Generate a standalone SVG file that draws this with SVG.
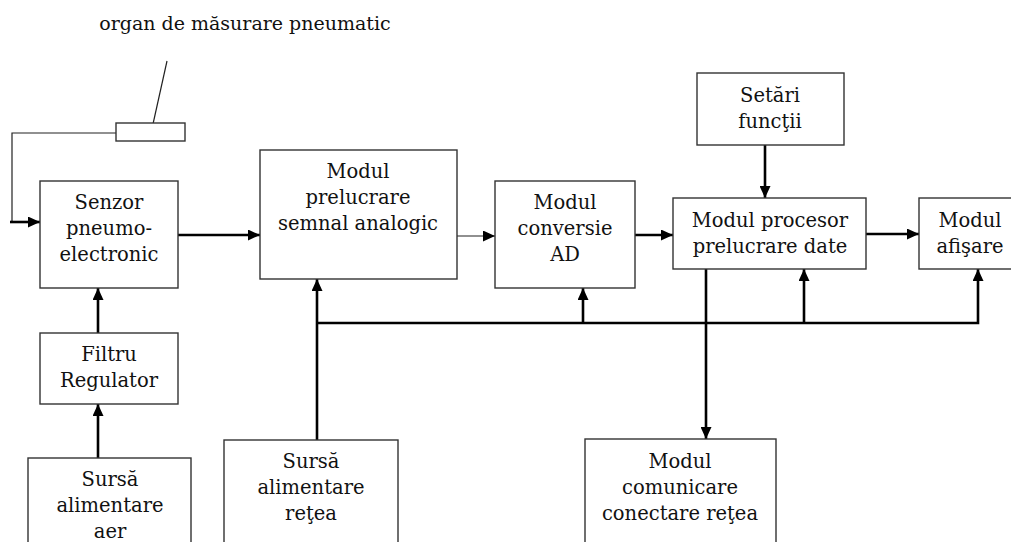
<svg xmlns="http://www.w3.org/2000/svg" width="1011" height="542" viewBox="0 0 1011 542">
<defs>
<style>
.box{fill:#fff;stroke:#333;stroke-width:1.4}
.t{font-family:"DejaVu Serif",serif;font-size:19.5px;fill:#111;text-anchor:middle}
.c{fill:none;stroke:#000;stroke-width:2.6}
.thin{fill:none;stroke:#222;stroke-width:1.2}
</style>
<marker id="ah" markerWidth="12" markerHeight="11" refX="12" refY="5.5" orient="auto" markerUnits="userSpaceOnUse" viewBox="0 0 12 11">
<path d="M0,0 L12,5.5 L0,11 z" fill="#000"/>
</marker>
</defs>
<rect width="1011" height="542" fill="#fff"/>

<text class="t" x="245" y="30" style="font-size:19px">organ de măsurare pneumatic</text>

<g id="connectors">
<line class="thin" x1="167" y1="61" x2="151" y2="133"/>
<polyline class="thin" points="116,133 12,133 12,222"/>
<line class="c" x1="10" y1="222" x2="40" y2="222" marker-end="url(#ah)"/>
<line class="c" x1="178" y1="235" x2="260" y2="235" marker-end="url(#ah)"/>
<line class="thin" x1="457" y1="236" x2="495" y2="236" marker-end="url(#ah)"/>
<line class="c" x1="635" y1="235" x2="673" y2="235" marker-end="url(#ah)"/>
<line class="c" x1="866" y1="234" x2="919" y2="234" marker-end="url(#ah)"/>
<line class="c" x1="765" y1="145" x2="765" y2="198" marker-end="url(#ah)"/>
<line class="c" x1="98" y1="458" x2="98" y2="404" marker-end="url(#ah)"/>
<line class="c" x1="98" y1="333" x2="98" y2="288" marker-end="url(#ah)"/>
<line class="c" x1="317" y1="440" x2="317" y2="279" marker-end="url(#ah)"/>
<polyline class="c" points="317,323 978,323 978,269" marker-end="url(#ah)"/>
<line class="c" x1="583" y1="323" x2="583" y2="288" marker-end="url(#ah)"/>
<line class="c" x1="804" y1="323" x2="804" y2="269" marker-end="url(#ah)"/>
<line class="c" x1="706" y1="269" x2="706" y2="439" marker-end="url(#ah)"/>
</g>

<g id="organ">
<rect class="box" x="116" y="123" width="69" height="18"/>
</g>

<g id="senzor">
<rect class="box" x="40" y="181" width="138" height="107"/>
<text class="t" x="109" y="209">Senzor</text>
<text class="t" x="109" y="235">pneumo-</text>
<text class="t" x="109" y="261">electronic</text>
</g>

<g id="filtru">
<rect class="box" x="40" y="333" width="138" height="71"/>
<text class="t" x="109" y="361">Filtru</text>
<text class="t" x="109" y="387">Regulator</text>
</g>

<g id="sursa-aer">
<rect class="box" x="28" y="458" width="163" height="100"/>
<text class="t" x="110" y="486">Sursă</text>
<text class="t" x="110" y="512">alimentare</text>
<text class="t" x="110" y="538">aer</text>
</g>

<g id="prelucrare">
<rect class="box" x="260" y="150" width="197" height="129"/>
<text class="t" x="358" y="178">Modul</text>
<text class="t" x="358" y="204">prelucrare</text>
<text class="t" x="358" y="230">semnal analogic</text>
</g>

<g id="sursa-retea">
<rect class="box" x="224" y="440" width="174" height="120"/>
<text class="t" x="311" y="468">Sursă</text>
<text class="t" x="311" y="494">alimentare</text>
<text class="t" x="311" y="520">reţea</text>
</g>

<g id="conversie">
<rect class="box" x="495" y="181" width="140" height="107"/>
<text class="t" x="565" y="209">Modul</text>
<text class="t" x="565" y="235">conversie</text>
<text class="t" x="565" y="261">AD</text>
</g>

<g id="setari">
<rect class="box" x="697" y="73" width="147" height="72"/>
<text class="t" x="770" y="102">Setări</text>
<text class="t" x="770" y="128">funcţii</text>
</g>

<g id="procesor">
<rect class="box" x="673" y="198" width="193" height="71"/>
<text class="t" x="770" y="227">Modul procesor</text>
<text class="t" x="770" y="253">prelucrare date</text>
</g>

<g id="afisare">
<rect class="box" x="919" y="198" width="100" height="71"/>
<text class="t" x="970" y="227">Modul</text>
<text class="t" x="970" y="253">afişare</text>
</g>

<g id="comunicare">
<rect class="box" x="585" y="439" width="191" height="120"/>
<text class="t" x="680" y="468">Modul</text>
<text class="t" x="680" y="494">comunicare</text>
<text class="t" x="680" y="520">conectare reţea</text>
</g>
</svg>
